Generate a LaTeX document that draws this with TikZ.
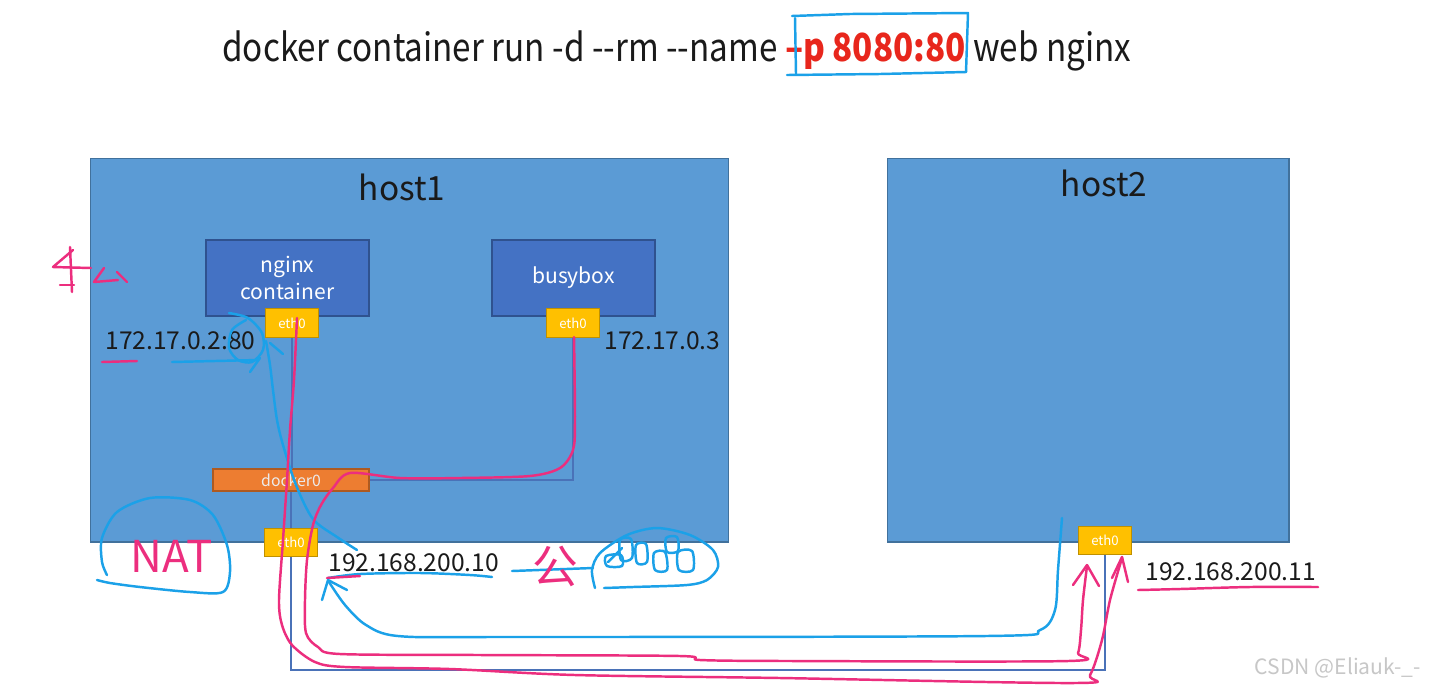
\documentclass[tikz,border=0pt]{standalone}
\usepackage{fontspec}
\setmainfont{Noto Sans CJK SC}
\newfontfamily\cmdfont[FakeStretch=0.86]{Noto Sans CJK SC}
\usetikzlibrary{arrows.meta,calc,positioning}
\definecolor{HostBlue}{HTML}{5B9BD5}
\definecolor{HostEdge}{HTML}{41719C}
\definecolor{BoxBlue}{HTML}{4472C4}
\definecolor{BoxEdge}{HTML}{2F528F}
\definecolor{Amber}{HTML}{FFC000}
\definecolor{AmberEdge}{HTML}{BF9000}
\definecolor{Tangerine}{HTML}{ED7D31}
\definecolor{TangerineEdge}{HTML}{AE5A21}
\definecolor{Ink}{HTML}{1A1A1A}
\definecolor{CmdRed}{HTML}{E8261C}
\definecolor{Pen}{HTML}{1BA1E8}
\definecolor{Marker}{HTML}{EC2E7E}
\definecolor{Wire}{HTML}{4A72B8}

\begin{document}
\begin{tikzpicture}[x=0.02cm,y=-0.02cm,
    host/.style={draw=HostEdge,fill=HostBlue,line width=0.6pt},
    ctr/.style={draw=BoxEdge,fill=BoxBlue,line width=0.6pt,text=white,
                align=center,font=\fontsize{12}{15}\selectfont},
    nic/.style={draw=AmberEdge,fill=Amber,line width=0.6pt,text=white,
                minimum width=1.07cm,minimum height=0.57cm,inner sep=0pt,
                font=\fontsize{7.5}{8}\selectfont},
    bridge/.style={draw=TangerineEdge,fill=Tangerine,line width=0.6pt,text=white!92!black,
                minimum width=3.12cm,minimum height=0.44cm,inner sep=0pt,
                font=\fontsize{9}{10}\selectfont},
    wire/.style={draw=Wire,line width=0.6pt},
    ip/.style={text=Ink,inner sep=0pt,anchor=west,font=\fontsize{14}{16}\selectfont},
    hostname/.style={text=Ink,inner sep=0pt,font=\fontsize{19}{22}\selectfont},
    pen/.style={draw=Pen,line width=1.4pt,line cap=round,line join=round},
    marker/.style={draw=Marker,line width=1.4pt,line cap=round,line join=round}]
  \useasboundingbox[fill=white] (0,0) rectangle (1429,697);

  \node[host,minimum width=12.78cm,minimum height=7.68cm] (host1) at (409.5,350) {};
  \node[host,minimum width=8.04cm,minimum height=7.68cm] (host2) at (1088,350) {};
  \node[hostname] (host1label) at (402,187) {host1};
  \node[hostname] (host2label) at (1104,183) {host2};

  \node[ctr,minimum width=3.26cm,minimum height=1.52cm] (nginx) at (287.5,278) {nginx\\container};
  \node[ctr,minimum width=3.26cm,minimum height=1.52cm] (busybox) at (573.5,278) {busybox};

  \node[bridge] (docker0) at (291,480) {docker0};
  \coordinate (lanfloor) at (0,670);
  \draw[wire] (292,337) -- (292,469);
  \draw[wire] (docker0) -- (291,528);
  \draw[wire] (573,337) |- (docker0.east);
  \draw[wire] (291,557) |- (lanfloor -| 1105,0) -- (1105,555);

  \node[nic] (ethN) at (292,323) {eth0};
  \node[nic] (ethB) at (573,323) {eth0};
  \node[nic] (ethH1) at (291,542.5) {eth0};
  \node[nic] (ethH2) at (1105,540.5) {eth0};

  \node[ip] (ipN) at (105,341) {172.17.0.2:80};
  \node[ip] (ipB) at (604,341) {172.17.0.3};
  \node[ip] (ipH1) at (328,563) {192.168.200.10};
  \node[ip] (ipH2) at (1145,572) {192.168.200.11};

  \node[anchor=base west,inner sep=0pt,text=Ink,font=\cmdfont\fontsize{22}{26}\selectfont] (cmd) at (222,61)
    {docker container run -d -{}-rm -{}-name \textcolor{CmdRed}{\bfseries –p 8080:80} web nginx};

  \node[anchor=east,inner sep=0pt,text=black!22,font=\fontsize{12}{14}\selectfont] (mark) at (1421,668) {CSDN @Eliauk-\_-};

  % hand-drawn marks
  \draw[pen] (795,18) -- (796,74);
  \draw[pen] (792,16) -- (850,14) -- (968,13) -- (966,72);
  \draw[pen] (787,75) -- (880,74) -- (966,72);

  \draw[marker] (73,250) -- (53,267) -- (91,268);
  \draw[marker] (70,247) -- (72,292);
  \draw[marker] (60,285) -- (74,285);
  \draw[marker] (104,268) -- (94,282) -- (118,280);
  \draw[marker] (117,272) -- (127,282);
  \draw[marker] (102,362) -- (137,361);

  \draw[pen] (172,362) -- (258,360);
  \draw[pen] plot[smooth] coordinates {(229,313) (248,318) (262,333) (263,350) (252,362) (238,360) (229,348) (232,330) (246,320)};
  \draw[pen] plot[smooth] coordinates {(357,550) (337,537) (313,519) (296,485) (283,445) (277,420) (273,390) (270,365) (266,341)};
  \draw[pen] (250,372) -- (260,358);
  \draw[pen] (270,343) -- (283,354);

  \draw[marker] plot[smooth] coordinates {(297,318) (294,380) (290,430) (287,480) (283,540) (279,600) (282,625) (292,645) (315,662) (345,667) (450,669) (575,675) (780,678) (1075,683) (1090,675) (1102,640) (1110,600) (1122,558)};
  \draw[marker] (1122,557) -- (1112,578);
  \draw[marker] (1122,557) -- (1128,582);

  \draw[marker] plot[smooth] coordinates {(574,337) (575,420) (573,450) (560,468) (530,476) (460,478) (400,478) (350,473) (333,488) (321,505) (313,525) (307,560) (305,600) (306,633) (318,647) (340,654) (480,655) (680,656) (700,660) (790,661) (1068,661) (1078,653) (1081,630) (1083,600) (1087,566)};
  \draw[marker] (1087,565) -- (1073,585);
  \draw[marker] (1087,565) -- (1099,586);

  \draw[pen] plot[smooth] coordinates {(328,578) (360,574) (420,573) (470,575) (492,577)};
  \draw[marker] (327,578) -- (360,576);
  \draw[pen] plot[smooth] coordinates {(329,582) (345,605) (366,625) (398,636) (500,637) (986,636) (1040,630) (1055,610) (1058,570) (1062,518)};
  \draw[pen] (328,580) -- (322,600);
  \draw[pen] (328,580) -- (347,590);

  \draw[pen] (512,571) -- (593,568);
  \draw[pen] plot[smooth] coordinates {(595,588) (592,570) (600,553) (627,535) (657,528) (690,535) (713,550) (718,567) (707,580) (687,585) (633,587) (604,588)};
  \draw[pen] plot[smooth cycle] coordinates {(606,556) (621,555) (622,566) (607,566)};
  \draw[pen] plot[smooth cycle] coordinates {(620,540) (631,539) (632,558) (621,560)};
  \draw[pen] plot[smooth cycle] coordinates {(636,545) (646,544) (647,562) (637,563)};
  \draw[pen] plot[smooth cycle] coordinates {(654,553) (665,552) (667,570) (655,570)};
  \draw[pen] plot[smooth cycle] coordinates {(666,538) (677,537) (678,551) (667,552)};
  \draw[pen] plot[smooth cycle] coordinates {(678,552) (692,551) (693,570) (679,570)};
  \draw[pen] (622,548) -- (608,562);

  \draw[pen] plot[smooth] coordinates {(97,580) (110,583) (140,587) (190,592) (223,592) (230,572) (227,545) (213,515) (190,500) (150,498) (117,512) (102,538) (102,562) (107,575)};
  \node[text=Marker,inner sep=0pt,font=\fontsize{25}{30}\selectfont] (nat) at (172,556) {NAT};
  \node[text=Marker,inner sep=0pt,font=\fontsize{26}{30}\selectfont] (gong) at (555,566) {公};

  \draw[marker] plot[smooth] coordinates {(1138,590) (1180,589) (1250,587) (1318,587)};
\end{tikzpicture}
\end{document}
